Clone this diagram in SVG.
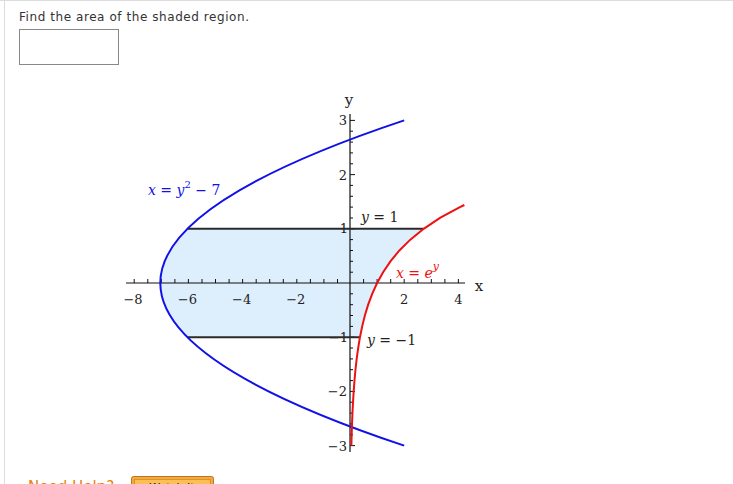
<svg xmlns="http://www.w3.org/2000/svg" width="733" height="484" viewBox="0 0 733 484">
<style>
.q{font-family:"DejaVu Sans",Verdana,sans-serif;font-size:12px;fill:#333}
.t{font-family:"DejaVu Serif","Liberation Serif",serif;font-size:13px;fill:#222}
.lab{font-family:"DejaVu Serif","Liberation Serif",serif;font-size:14px}
.it{font-style:italic}
.ax{stroke:#111;stroke-width:1.2;fill:none}
.tk{stroke:#111;stroke-width:1;fill:none}
.bl{stroke:#2a2a2a;stroke-width:2;fill:none}
</style>
<rect x="0" y="0" width="733" height="484" fill="#fff"/>
<line x1="0" y1="0.5" x2="733" y2="0.5" stroke="#ddd"/>
<line x1="4.5" y1="0" x2="4.5" y2="484" stroke="#ddd"/>
<text class="q" x="19" y="21" textLength="230">Find the area of the shaded region.</text>
<rect x="19.5" y="29.5" width="99" height="35" fill="#fff" stroke="#888"/>

<g id="shaded">
<path d="M187.4,228.8 L423.67,228.8 L410.31,239.64 L399.38,250.48 L390.43,261.32 L383.10,272.16 L377.1,283 L372.19,293.84 L368.17,304.68 L364.87,315.52 L362.18,326.36 L359.97,337.2 L187.4,337.2 Q133.2,283 187.4,228.8 Z" fill="#ddeefd"/>
</g>

<g id="axes">
<line class="ax" x1="126" y1="283" x2="465" y2="283"/>
<line class="ax" x1="350" y1="114" x2="350" y2="452"/>
<path class="tk" d="M134.2,283v-4M147.8,283v-4M161.3,283v-4M174.9,283v-4M188.4,283v-4M202,283v-4M215.5,283v-4M229.1,283v-4M242.6,283v-4M256.2,283v-4M269.7,283v-4M283.3,283v-4M296.8,283v-4M310.4,283v-4M323.9,283v-4M337.5,283v-4M363.6,283v-4M377.1,283v-4M390.7,283v-4M404.2,283v-4M417.8,283v-4M431.3,283v-4M444.9,283v-4M458.4,283v-4"/>
<path class="tk" d="M350,120.4h5M350,131.2h3M350,142.1h3M350,152.9h3M350,163.8h3M350,174.6h5M350,185.4h3M350,196.3h3M350,207.1h3M350,218h3M350,228.8h5M350,239.6h3M350,250.5h3M350,261.3h3M350,272.2h3M350,293.8h3M350,304.7h3M350,315.5h3M350,326.4h3M350,337.2h5M350,348h3M350,358.9h3M350,369.7h3M350,380.6h3M350,391.4h5M350,402.2h3M350,413.1h3M350,423.9h3M350,434.8h3M350,445.6h5"/>
<text class="t" x="133" y="304" text-anchor="middle">−8</text>
<text class="t" x="187.4" y="304" text-anchor="middle">−6</text>
<text class="t" x="241.6" y="304" text-anchor="middle">−4</text>
<text class="t" x="295.8" y="304" text-anchor="middle">−2</text>
<text class="t" x="404.2" y="304" text-anchor="middle">2</text>
<text class="t" x="458.4" y="304" text-anchor="middle">4</text>
<text class="t" x="347" y="125" text-anchor="end">3</text>
<text class="t" x="347" y="180" text-anchor="end">2</text>
<text class="t" x="348" y="233" text-anchor="end">1</text>
<text class="t" x="348" y="341.5" text-anchor="end">−1</text>
<text class="t" x="347" y="396" text-anchor="end">−2</text>
<text class="t" x="347" y="451" text-anchor="end">−3</text>
<text class="t" x="349" y="105" text-anchor="middle" style="font-size:15px">y</text>
<text class="t" x="479" y="291" text-anchor="middle" style="font-size:15px">x</text>
</g>

<g id="connectors">
<line class="bl" x1="187.4" y1="228.8" x2="423.67" y2="228.8"/>
<line class="bl" x1="187.4" y1="337.2" x2="359.97" y2="337.2"/>
</g>

<g id="parabola">
<path d="M404.2,445.6 Q-83.6,283 404.2,120.4" fill="none" stroke="#1010e8" stroke-width="2"/>
<text class="lab" x="148" y="195" fill="#1010e8"><tspan class="it">x</tspan> = <tspan class="it">y</tspan><tspan dy="-7" font-size="10">2</tspan><tspan dy="7"> − 7</tspan></text>
</g>

<g id="exp">
<polyline points="351.35,445.6 351.65,434.76 352.01,423.92 352.46,413.08 353.00,402.24 353.67,391.4 354.48,380.56 355.47,369.72 356.68,358.88 358.16,348.04 359.97,337.2 362.18,326.36 364.87,315.52 368.17,304.68 372.19,293.84 377.1,283 383.10,272.16 390.43,261.32 399.38,250.48 410.31,239.64 423.67,228.8 439.97,217.96 459.90,207.12 464.38,205.0" fill="none" stroke="#ee1111" stroke-width="2"/>
<text class="lab" x="396" y="278" fill="#ee1111"><tspan class="it">x</tspan> = <tspan class="it">e</tspan><tspan class="it" dy="-8" font-size="11">y</tspan></text>
</g>

<g id="lines-labels">
<text class="lab" x="361" y="222" fill="#222"><tspan class="it">y</tspan> = 1</text>
<text class="lab" x="367" y="345" fill="#222"><tspan class="it">y</tspan> = −1</text>
</g>

<g id="footer">
<text x="28" y="492" style="font-family:'DejaVu Sans',Verdana,sans-serif;font-size:15px;fill:#e8820c">Need Help?</text>
<rect x="131.5" y="476.5" width="82" height="20" rx="2" fill="#f7a934" stroke="#b7772e"/>
<rect x="134.5" y="479.5" width="76" height="14" fill="#fbbf55" stroke="#d08a30" stroke-width="0.8"/>
<text x="172" y="491" text-anchor="middle" style="font-family:'DejaVu Sans',Verdana,sans-serif;font-size:11px;fill:#222">Watch It</text>
</g>
</svg>
